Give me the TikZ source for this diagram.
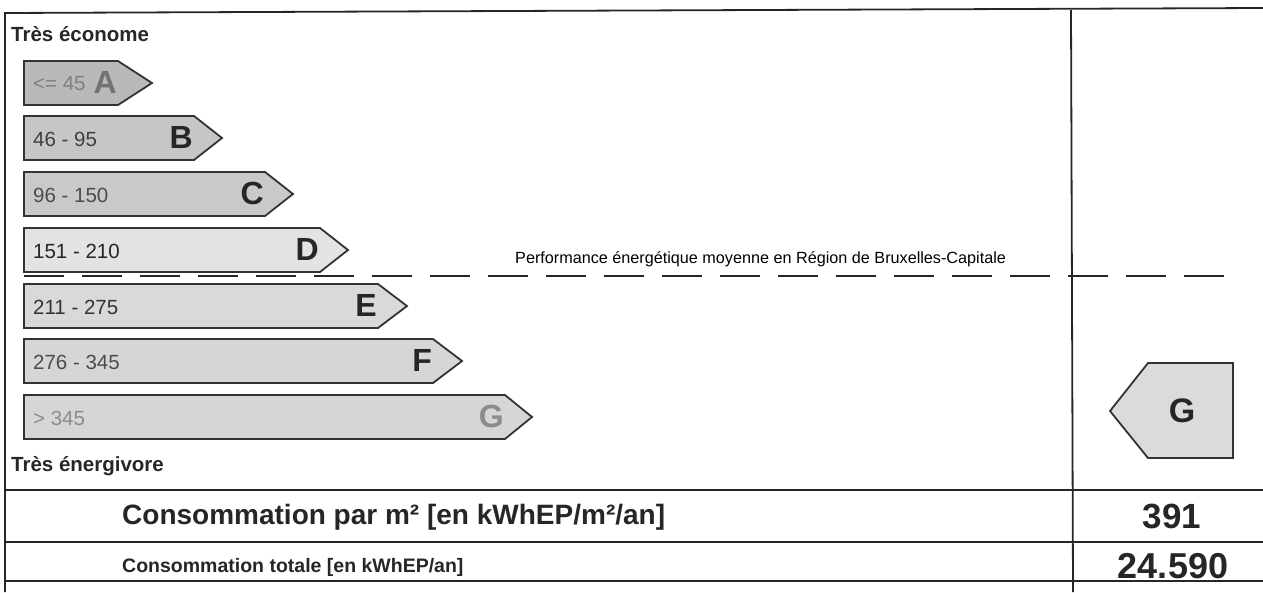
\documentclass[tikz,border=0pt]{standalone}
\usepackage{fontspec}
\setmainfont{Liberation Sans}
\usetikzlibrary{calc}

\begin{document}
\begin{tikzpicture}[x=1pt,y=-1pt,
 frame/.style={black!85, line width=1.8pt},
 band/.style={draw=black!80, line width=1.8pt, line join=miter},
 rangelabel/.style={anchor=west, inner sep=0, font=\fontsize{20.5}{20.5}\selectfont},
 gradeletter/.style={anchor=east, inner sep=0, font=\bfseries\fontsize{32}{32}\selectfont},
 sidetitle/.style={anchor=west, inner sep=0, text=black!85, font=\bfseries\fontsize{20.5}{20.5}\selectfont}]
\useasboundingbox (0,0) rectangle (1263,592);
\draw[frame] (1263,8) -- (5,13) -- (5,592);
\draw[frame] (1071,10) -- (1073,592);
\foreach \y in {490, 542, 581}
 \draw[frame] (5,\y) -- (1263,\y);
\foreach \top/\body/\tip/\lbl/\g/\shade/\ink/\gink in {61/118/152/{<= 45}/A/55/50/55, 116/194/222/{46 - 95}/B/45/75/85, 172/265/293/{96 - 150}/C/42/70/85, 228/320/348/{151 - 210}/D/22/85/85, 284/378/407/{211 - 275}/E/30/80/85, 339/433/462/{276 - 345}/F/32/70/85, 395/505/532/{> 345}/G/32/45/45} {
 \draw[band, fill=gray!\shade] (24,\top) -- (\body,\top) -- (\tip,\top+22) -- (\body,\top+44) -- (24,\top+44) -- cycle;
 \node[rangelabel, text=black!\ink] (r\g) at (33,\top+23) {\lbl};
 \node[gradeletter, text=black!\gink] (g\g) at (\body-1,\top+21) {\g};
}
\draw[black!85, line width=1.5pt, dash pattern=on 40pt off 18pt] (24,276) -- (1230,276);
\node[anchor=base west, inner sep=0, font=\fontsize{16.2}{16.2}\selectfont] (moyenne) at (515,263) {Performance énergétique moyenne en Région de Bruxelles-Capitale};
\node[sidetitle] (econome) at (11,34) {Très économe};
\node[sidetitle] (energivore) at (11,466) {Très énergivore};
\draw[band, fill=gray!28] (1233,363) -- (1148,363) -- (1110,411) -- (1148,458) -- (1233,458) -- cycle;
\node[inner sep=0, text=black!85, font=\bfseries\fontsize{34}{34}\selectfont] (classe) at (1182,411) {G};
\node[anchor=west, inner sep=0, text=black!85, font=\bfseries\fontsize{28}{28}\selectfont] (parm) at (122,517) {Consommation par m² [en kWhEP/m²/an]};
\node[anchor=west, inner sep=0, text=black!85, font=\bfseries\fontsize{19.5}{19.5}\selectfont] (totale) at (122,567) {Consommation totale [en kWhEP/an]};
\node[inner sep=0, text=black!85, font=\bfseries\fontsize{35}{35}\selectfont] (valparm) at (1172,516) {391};
\node[inner sep=0, text=black!85, font=\bfseries\fontsize{36}{36}\selectfont] (valtot) at (1173,566) {24.590};
\end{tikzpicture}
\end{document}
